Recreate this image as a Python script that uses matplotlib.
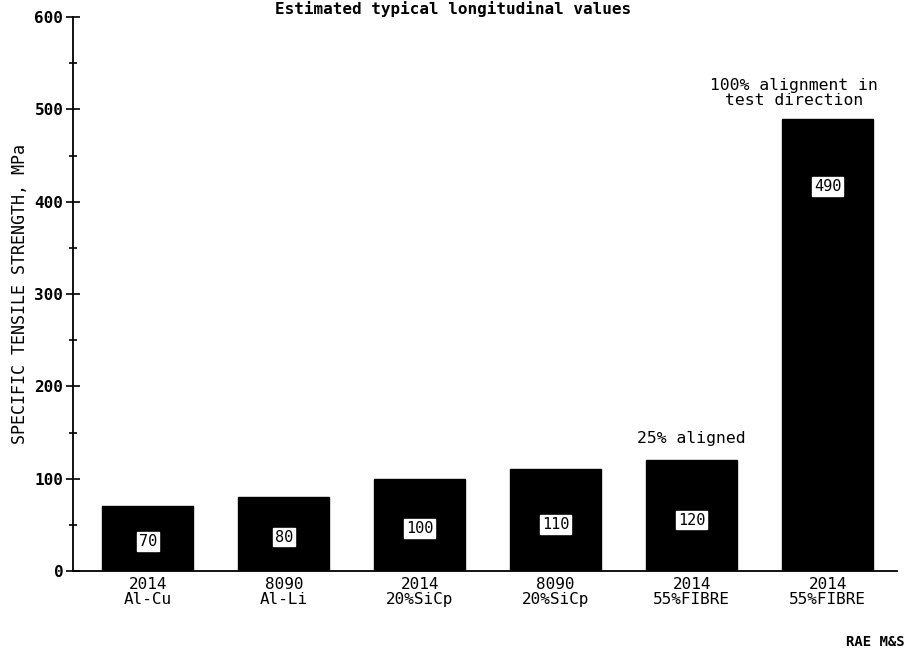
import matplotlib
matplotlib.use("Agg")
import matplotlib.pyplot as plt
import numpy as np

# Alloy / composite categories and their specific tensile strengths (MPa)
alloys = ["2014", "8090", "2014", "8090", "2014", "2014"]
materials = ["Al-Cu", "Al-Li", "20%SiCp", "20%SiCp", "55%FIBRE", "55%FIBRE"]
strength = [70, 80, 100, 110, 120, 490]
y_ticks = [0, 100, 200, 300, 400, 500, 600]

plt.rcParams["font.family"] = ["DejaVu Sans Mono"]

fig = plt.figure(figsize=(9.06, 6.51), dpi=100)
ax = fig.add_axes([73 / 906, 80 / 651, (897 - 73) / 906, (571 - 17) / 651])

x = np.arange(len(strength))
ax.bar(x, strength, width=0.67, color="black", edgecolor="black", zorder=2)

# value boxes inside each bar
for xi, v in zip(x, strength):
    ly = v * 0.46 if v < 200 else v * 0.85
    ax.text(xi, ly, str(v), ha="center", va="center", fontsize=11,
            color="black", zorder=3,
            bbox=dict(boxstyle="square,pad=0.12", fc="white", ec="white"))

ax.set_xlim(-0.55, 5.51)
ax.set_ylim(0, 600)
ax.set_yticks(y_ticks)
ax.set_yticks(np.arange(50, 600, 100), minor=True)
ax.tick_params(axis="y", which="major", direction="inout", length=10, width=1.2,
               labelsize=11.5, pad=2)
ax.tick_params(axis="y", which="minor", direction="inout", length=6, width=1.2)
for lab in ax.get_yticklabels():
    lab.set_fontweight("bold")

ax.set_xticks(x)
ax.set_xticklabels([f"{a}\n{m}" for a, m in zip(alloys, materials)],
                   fontsize=11.5, linespacing=1.0)
ax.tick_params(axis="x", length=0, pad=4)

for side in ("top", "right"):
    ax.spines[side].set_visible(False)
ax.spines["left"].set_linewidth(1.3)
ax.spines["bottom"].set_linewidth(1.3)

ax.set_ylabel("SPECIFIC TENSILE STRENGTH, MPa", fontsize=12, labelpad=4)

ax.text(4.0, 143, "25% aligned", ha="center", va="center", fontsize=11.8)
ax.text(4.75, 518, "100% alignment in\ntest direction", ha="center",
        va="center", fontsize=11.8, linespacing=1.0)

fig.text(0.5, 1.0 - 1 / 651, "Estimated typical longitudinal values",
         ha="center", va="top", fontsize=11.5, fontweight="bold")
fig.text(875 / 906, 1 - 642 / 651, "RAE M&S", ha="center", va="center",
         fontsize=10, fontweight="bold")

fig.savefig("out.png", dpi=100)
